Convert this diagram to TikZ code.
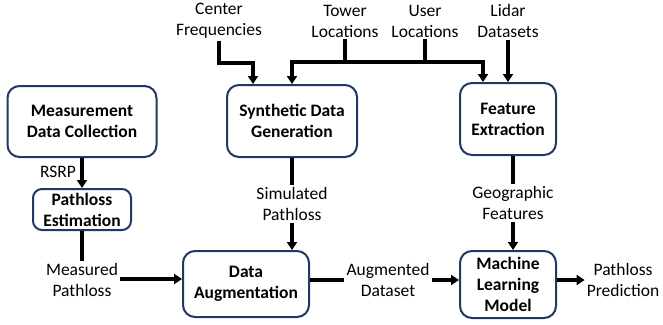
\documentclass[tikz,border=0pt]{standalone}
\usepackage{fontspec}
\setmainfont{Carlito}
\usetikzlibrary{arrows.meta}
\definecolor{boxblue}{HTML}{1F3864}
\tikzset{
  box/.style={draw=boxblue, line width=2pt, rounded corners=12pt, fill=white, align=center,
    font=\fontsize{17.5}{21}\selectfont\bfseries, inner sep=0pt},
  lbl/.style={align=center, font=\fontsize{17.5}{21}\selectfont, inner sep=2pt},
  conn/.style={line width=3.2pt, line join=miter},
  arr/.style={conn, -{Triangle[width=10pt,length=8pt]}},
  arrboth/.style={conn, {Triangle[width=10pt,length=8pt]}-{Triangle[width=10pt,length=8pt]}}
}
\begin{document}
\begin{tikzpicture}[x=1pt,y=-1pt]
\useasboundingbox (0,0) rectangle (663,324);
% boxes
\node[box, minimum width=149pt, minimum height=71pt] (mdc) at (82,121.5) {Measurement\\Data Collection};
\node[box, minimum width=130pt, minimum height=72pt] (syn) at (292,121) {Synthetic Data\\Generation};
\node[box, minimum width=96pt, minimum height=72pt] (fe) at (508,119) {Feature\\Extraction};
\node[box, minimum width=98pt, minimum height=41pt, rounded corners=9pt] (pe) at (82,209.5) {Pathloss\\Estimation};
\node[box, minimum width=126pt, minimum height=66pt] (da) at (246,284) {Data\\Augmentation};
\node[box, minimum width=96pt, minimum height=67pt] (ml) at (508,284.5) {Machine\\Learning\\Model};
% labels
\node[lbl] (cf) at (219,21) {Center\\Frequencies};
\node[lbl] (tl) at (345,21) {Tower\\Locations};
\node[lbl] (ul) at (425,21) {User\\Locations};
\node[lbl] (ld) at (508,21) {Lidar\\Datasets};
\node[lbl, inner sep=0pt] (rsrp) at (58,172) {RSRP};
\node[lbl] (sp) at (292,204) {Simulated\\Pathloss};
\node[lbl] (mp) at (82,280) {Measured\\Pathloss};
\node[lbl] (ad) at (388,280) {Augmented\\Dataset};
\node[lbl] (gf) at (513,203) {Geographic\\Features};
\node[lbl] (pp) at (623,280) {Pathloss\\Prediction};
% bus coordinates
\coordinate (busL) at (292,62);
\coordinate (busR) at (483,62);
\coordinate (cfturn) at (253,63);
% connectors
\draw[arr] (cf.south) |- (cfturn) -- (cfturn |- syn.north);
\draw[arrboth] (syn.north) -- (busL) -- (busR) -- (busR |- fe.north);
\draw[conn] (tl.south) -- (tl.south |- busL);
\draw[conn] (ul.south) -- (ul.south |- busL);
\draw[arr] (ld.south) -- (ld.south |- fe.north);
\draw[arr] (mdc.south) -- (pe.north);
\draw[conn] (pe.south) -- (mp.north);
\draw[arr] ([yshift=1pt]mp.east) -- ([yshift=1pt]mp.east -| da.west);
\draw[conn] (syn.south) -- (sp.north);
\draw[arr] (sp.south) -- (sp.south |- da.north);
\draw[conn] ([yshift=4pt]da.east) -- ([yshift=4pt]da.east -| ad.west);
\draw[arr] ([yshift=4pt]ad.east |- da.east) -- ([yshift=4pt]ml.west |- da.east);
\draw[conn] ([xshift=5pt]fe.south) -- (gf.north);
\draw[arr] (gf.south) -- (gf.south |- ml.north);
\draw[arr] ([yshift=4pt]ml.east |- da.east) -- ([yshift=4pt]pp.west |- da.east);
\end{tikzpicture}
\end{document}
